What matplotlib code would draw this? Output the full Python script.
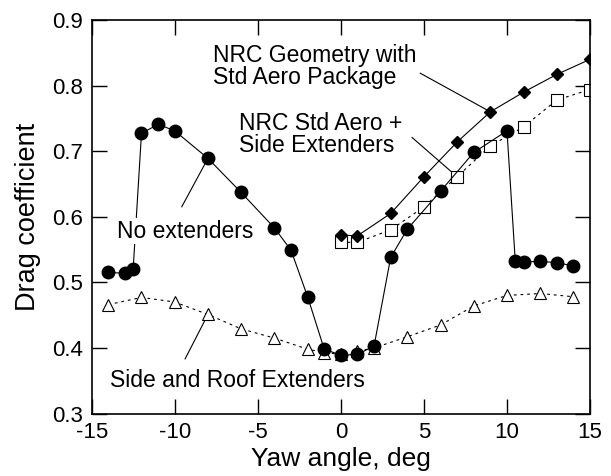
import matplotlib
matplotlib.use("Agg")
import matplotlib.pyplot as plt

plt.rcParams['font.family'] = ['Liberation Sans', 'DejaVu Sans']

# No extenders (filled circles)
x_none = [-14, -13, -12.5, -12, -11, -10, -8, -6, -4, -3, -2, -1, 0, 1, 2, 3, 4, 6, 8, 10, 10.5, 11, 12, 13, 14]
y_none = [0.515, 0.514, 0.521, 0.727, 0.741, 0.731, 0.689, 0.637, 0.583, 0.549, 0.478, 0.398, 0.389, 0.390,
          0.403, 0.538, 0.581, 0.639, 0.698, 0.731, 0.532, 0.531, 0.532, 0.530, 0.525]

# Side and Roof Extenders (open triangles)
x_roof = [-14, -12, -10, -8, -6, -4, -2, -1, 0, 1, 2, 4, 6, 8, 10, 12, 14]
y_roof = [0.466, 0.477, 0.470, 0.451, 0.429, 0.415, 0.398, 0.393, 0.390, 0.395, 0.400, 0.417, 0.435,
          0.464, 0.480, 0.483, 0.478]

# NRC Geometry with Std Aero Package (filled diamonds)
x_geom = [0, 1, 3, 5, 7, 9, 11, 13, 15]
y_geom = [0.572, 0.571, 0.605, 0.661, 0.714, 0.760, 0.790, 0.817, 0.840]

# NRC Std Aero + Side Extenders (open squares)
x_side = [0, 1, 3, 5, 7, 9, 11, 13, 15]
y_side = [0.561, 0.561, 0.580, 0.615, 0.661, 0.708, 0.737, 0.778, 0.794]

xticks = [-15, -10, -5, 0, 5, 10, 15]
yticks = [0.3, 0.4, 0.5, 0.6, 0.7, 0.8, 0.9]

fig = plt.figure(figsize=(6.11, 4.76), dpi=100)
ax = fig.add_axes([0.150, 0.1313, 0.8157, 0.8267])

dash = (0, (2.5, 3.5))
ax.plot(x_roof, y_roof, color='black', lw=0.8, ls=dash, marker='^', ms=8,
        mfc='white', mec='black', mew=0.8, zorder=2)
ax.plot(x_side, y_side, color='black', lw=0.8, ls=dash, marker='s', ms=8,
        mfc='white', mec='black', mew=0.8, zorder=2)
ax.plot(x_geom, y_geom, color='black', lw=0.8, ls='-', marker='D', ms=6,
        mfc='black', mec='black', zorder=3)
ax.plot(x_none, y_none, color='black', lw=0.8, ls='-', marker='o', ms=9,
        mfc='black', mec='black', zorder=3)

ax.set_xlim(-15, 15)
ax.set_ylim(0.3, 0.9)
ax.set_xticks(xticks)
ax.set_xticklabels([str(t) for t in xticks])
ax.set_yticks(yticks)
ax.set_yticklabels([f"{t:.1f}" for t in yticks])
ax.tick_params(direction='in', length=11, width=1, top=True, right=True,
               labelsize=16, pad=6)
for s in ax.spines.values():
    s.set_linewidth(1.2)

ax.set_xlabel('Yaw angle, deg', fontsize=19, labelpad=3)
ax.set_ylabel('Drag coefficient', fontsize=19.5, labelpad=8)

lp = dict(arrowstyle='-', color='black', lw=0.8, shrinkA=0, shrinkB=0)
fs = 16.5
# leader lines
ax.annotate('', xy=(x_geom[5], y_geom[5]), xytext=(4.77, 0.819), arrowprops=lp, zorder=1)
ax.annotate('', xy=(x_side[4], y_side[4]), xytext=(4.28, 0.721), arrowprops=lp, zorder=1)
ax.annotate('', xy=(x_none[6], y_none[6]), xytext=(-9.58, 0.615), arrowprops=lp, zorder=1)
ax.annotate('', xy=(x_roof[3], y_roof[3]), xytext=(-9.38, 0.383), arrowprops=lp, zorder=1)

ax.text(-7.72, 0.829, 'NRC Geometry with\nStd Aero Package', fontsize=fs,
        ha='left', va='center', linespacing=0.95, zorder=5)
ax.text(-6.13, 0.725, 'NRC Std Aero +\nSide Extenders', fontsize=fs,
        ha='left', va='center', linespacing=0.95, zorder=5)
ax.text(-13.48, 0.578, 'No extenders', fontsize=fs, ha='left', va='center', zorder=5,
        bbox=dict(facecolor='white', edgecolor='none', pad=1))
ax.text(-13.9, 0.351, 'Side and Roof Extenders', fontsize=fs, ha='left', va='center', zorder=5,
        bbox=dict(facecolor='white', edgecolor='none', pad=1))

fig.savefig('out.png', dpi=100)
